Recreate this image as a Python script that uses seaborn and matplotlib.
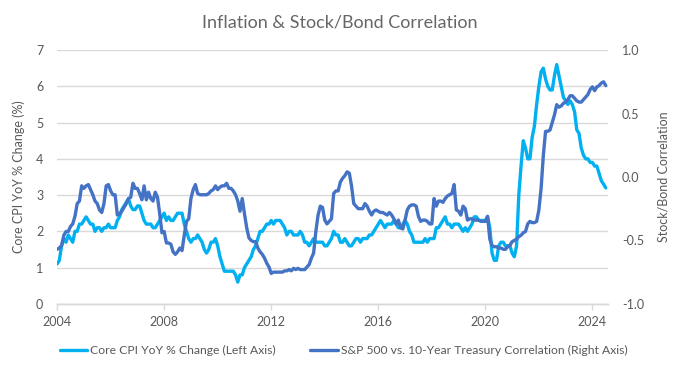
import numpy as np
import pandas as pd
import matplotlib
matplotlib.use("Agg")
import matplotlib.pyplot as plt
import seaborn as sns

# Monthly data, Jan 2004 - Jul 2024
start_month = "2004-01-01"
end_month = "2024-07-01"

# Core CPI YoY % change (left axis)
core_cpi = [
    1.1, 1.2, 1.6, 1.8, 1.7, 1.9, 1.8, 1.7, 2.0, 2.0, 2.2, 2.2,   # 2004
    2.3, 2.4, 2.3, 2.2, 2.2, 2.0, 2.1, 2.1, 2.0, 2.1, 2.1, 2.2,   # 2005
    2.1, 2.1, 2.1, 2.3, 2.4, 2.6, 2.7, 2.8, 2.9, 2.7, 2.6, 2.6,   # 2006
    2.7, 2.7, 2.5, 2.3, 2.2, 2.2, 2.2, 2.1, 2.1, 2.2, 2.3, 2.4,   # 2007
    2.5, 2.3, 2.4, 2.3, 2.3, 2.4, 2.5, 2.5, 2.5, 2.2, 2.0, 1.8,   # 2008
    1.7, 1.8, 1.8, 1.9, 1.8, 1.7, 1.5, 1.4, 1.5, 1.7, 1.7, 1.8,   # 2009
    1.6, 1.3, 1.1, 0.9, 0.9, 0.9, 0.9, 0.9, 0.8, 0.6, 0.8, 0.8,   # 2010
    1.0, 1.1, 1.2, 1.3, 1.5, 1.6, 1.8, 2.0, 2.0, 2.1, 2.2, 2.2,   # 2011
    2.3, 2.2, 2.3, 2.3, 2.3, 2.2, 2.1, 1.9, 2.0, 2.0, 1.9, 1.9,   # 2012
    1.9, 2.0, 1.9, 1.7, 1.7, 1.6, 1.7, 1.8, 1.7, 1.7, 1.7, 1.7,   # 2013
    1.6, 1.6, 1.7, 1.8, 2.0, 1.9, 1.9, 1.7, 1.7, 1.8, 1.7, 1.6,   # 2014
    1.6, 1.7, 1.8, 1.8, 1.7, 1.8, 1.8, 1.8, 1.9, 1.9, 2.0, 2.1,   # 2015
    2.2, 2.3, 2.2, 2.1, 2.2, 2.2, 2.2, 2.3, 2.2, 2.1, 2.1, 2.2,   # 2016
    2.3, 2.2, 2.0, 1.9, 1.7, 1.7, 1.7, 1.7, 1.7, 1.8, 1.7, 1.8,   # 2017
    1.8, 1.8, 2.1, 2.1, 2.2, 2.3, 2.4, 2.2, 2.2, 2.1, 2.2, 2.2,   # 2018
    2.2, 2.1, 2.0, 2.1, 2.0, 2.1, 2.2, 2.4, 2.4, 2.3, 2.3, 2.3,   # 2019
    2.3, 2.4, 2.1, 1.4, 1.2, 1.2, 1.6, 1.7, 1.7, 1.6, 1.6, 1.6,   # 2020
    1.4, 1.3, 1.6, 3.0, 3.8, 4.5, 4.3, 4.0, 4.0, 4.6, 4.9, 5.5,   # 2021
    6.0, 6.4, 6.5, 6.2, 6.0, 5.9, 5.9, 6.3, 6.6, 6.3, 6.0, 5.7,   # 2022
    5.6, 5.5, 5.6, 5.5, 5.3, 4.8, 4.7, 4.3, 4.1, 4.0, 4.0, 3.9,   # 2023
    3.9, 3.8, 3.8, 3.6, 3.4, 3.3, 3.2,                            # 2024
]

# S&P 500 vs. 10-year Treasury correlation (right axis)
stock_bond_corr = [
    -0.57, -0.56, -0.54, -0.46, -0.43, -0.43, -0.39, -0.37, -0.31, -0.21, -0.19, -0.07,  # 2004
    -0.09, -0.07, -0.06, -0.10, -0.14, -0.19, -0.21, -0.26, -0.28, -0.21, -0.07, -0.06,  # 2005
    -0.11, -0.14, -0.14, -0.30, -0.29, -0.27, -0.24, -0.21, -0.17, -0.16, -0.05, -0.09,  # 2006
    -0.09, -0.13, -0.18, -0.07, -0.18, -0.12, -0.17, -0.19, -0.12, -0.16, -0.29, -0.44,  # 2007
    -0.43, -0.52, -0.52, -0.53, -0.59, -0.61, -0.59, -0.56, -0.58, -0.46, -0.35, -0.33,  # 2008
    -0.17, -0.10, -0.06, -0.13, -0.14, -0.14, -0.14, -0.14, -0.13, -0.11, -0.10, -0.07,  # 2009
    -0.10, -0.08, -0.07, -0.07, -0.05, -0.09, -0.09, -0.11, -0.14, -0.19, -0.27, -0.17,  # 2010
    -0.29, -0.40, -0.48, -0.50, -0.51, -0.51, -0.56, -0.59, -0.61, -0.64, -0.68, -0.71,  # 2011
    -0.76, -0.75, -0.75, -0.75, -0.75, -0.75, -0.74, -0.74, -0.73, -0.74, -0.72, -0.73,  # 2012
    -0.72, -0.73, -0.73, -0.73, -0.71, -0.69, -0.64, -0.60, -0.43, -0.30, -0.23, -0.24,  # 2013
    -0.34, -0.37, -0.35, -0.33, -0.13, -0.11, -0.11, -0.04, -0.01, 0.01, 0.04, 0.03,     # 2014
    -0.07, -0.21, -0.23, -0.25, -0.25, -0.25, -0.21, -0.23, -0.27, -0.30, -0.27, -0.26,  # 2015
    -0.27, -0.28, -0.28, -0.29, -0.30, -0.28, -0.30, -0.33, -0.37, -0.34, -0.40, -0.41,  # 2016
    -0.34, -0.26, -0.23, -0.22, -0.22, -0.23, -0.31, -0.35, -0.34, -0.34, -0.35, -0.37,  # 2017
    -0.37, -0.17, -0.23, -0.19, -0.19, -0.20, -0.17, -0.15, -0.14, -0.13, -0.06, -0.26,  # 2018
    -0.27, -0.30, -0.23, -0.25, -0.34, -0.33, -0.33, -0.34, -0.34, -0.34, -0.35, -0.35,  # 2019
    -0.35, -0.31, -0.49, -0.54, -0.55, -0.55, -0.56, -0.56, -0.57, -0.57, -0.55, -0.54,  # 2020
    -0.51, -0.50, -0.49, -0.47, -0.46, -0.44, -0.43, -0.37, -0.35, -0.36, -0.36, -0.35,  # 2021
    -0.26, -0.09, 0.17, 0.36, 0.36, 0.37, 0.43, 0.49, 0.57, 0.55, 0.56, 0.58,            # 2022
    0.59, 0.61, 0.64, 0.64, 0.62, 0.60, 0.59, 0.59, 0.61, 0.63, 0.65, 0.69,              # 2023
    0.71, 0.68, 0.71, 0.72, 0.74, 0.75, 0.72,                                            # 2024
]

x_ticks = [2004, 2008, 2012, 2016, 2020, 2024]
left_ticks = [0, 1, 2, 3, 4, 5, 6, 7]
right_ticks = [-1.0, -0.5, 0.0, 0.5, 1.0]
right_tick_labels = ["-1.0", "-0.5", "0.0", "0.5", "1.0"]

title = "Inflation & Stock/Bond Correlation"
left_label = "Core CPI YoY % Change (%)"
right_label = "Stock/Bond Correlation"
cpi_name = "Core CPI YoY % Change (Left Axis)"
corr_name = "S&P 500 vs. 10-Year Treasury Correlation (Right Axis)"

LIGHT = "#00B0F0"
DARK = "#4472C4"
TEXT = "#595959"
GRID = "#D9D9D9"

dates = pd.date_range(start_month, end_month, freq="MS")
df = pd.DataFrame({"date": dates, "cpi": core_cpi, "corr": stock_bond_corr})
df["t"] = df["date"].dt.year + (df["date"].dt.month - 1) / 12

sns.set_theme(style="white")
plt.rcParams["font.family"] = ["Lato", "DejaVu Sans"]

fig, ax = plt.subplots(figsize=(6.8, 3.71), dpi=100)
fig.subplots_adjust(left=0.084, right=0.894, top=0.865, bottom=0.181)
ax2 = ax.twinx()

sns.lineplot(data=df, x="t", y="cpi", ax=ax, color=LIGHT, lw=2.4, legend=False)
sns.lineplot(data=df, x="t", y="corr", ax=ax2, color=DARK, lw=2.4, legend=False)

ax.set_xlim(2004, 2024.58)
ax.set_ylim(0, 7)
ax2.set_ylim(-1, 1)

ax.set_xticks(x_ticks)
ax.set_yticks(left_ticks)
ax2.set_yticks(right_ticks)
ax2.set_yticklabels(right_tick_labels)

ax.yaxis.grid(True, color=GRID, lw=1)
ax.xaxis.grid(False)
ax.set_axisbelow(True)

for a in (ax, ax2):
    for s in ("top", "left", "right"):
        a.spines[s].set_visible(False)
    a.spines["bottom"].set_color(GRID)
    a.spines["bottom"].set_linewidth(1)
    a.set_xlabel("")

ax.tick_params(axis="x", labelcolor=TEXT, labelsize=9, length=4, width=1,
               direction="out", bottom=True, pad=5, color=GRID)
ax.tick_params(axis="y", labelcolor=TEXT, labelsize=9, length=0, pad=10)
ax2.tick_params(axis="y", labelcolor=TEXT, labelsize=9, length=0, pad=10)

ax.set_ylabel(left_label, color=TEXT, fontsize=9, labelpad=8)
ax2.set_ylabel(right_label, color=TEXT, fontsize=9, labelpad=10)

fig.suptitle(title, color="#666666", fontsize=13, y=0.96)

handles = [ax.lines[0], ax2.lines[0]]
fig.legend(handles, [cpi_name, corr_name], loc="center", bbox_to_anchor=(0.505, 0.054),
           ncol=2, frameon=False, fontsize=8.7, labelcolor=TEXT,
           handlelength=2.3, handletextpad=0.25, columnspacing=2.8)

fig.savefig("out.png", dpi=100)
